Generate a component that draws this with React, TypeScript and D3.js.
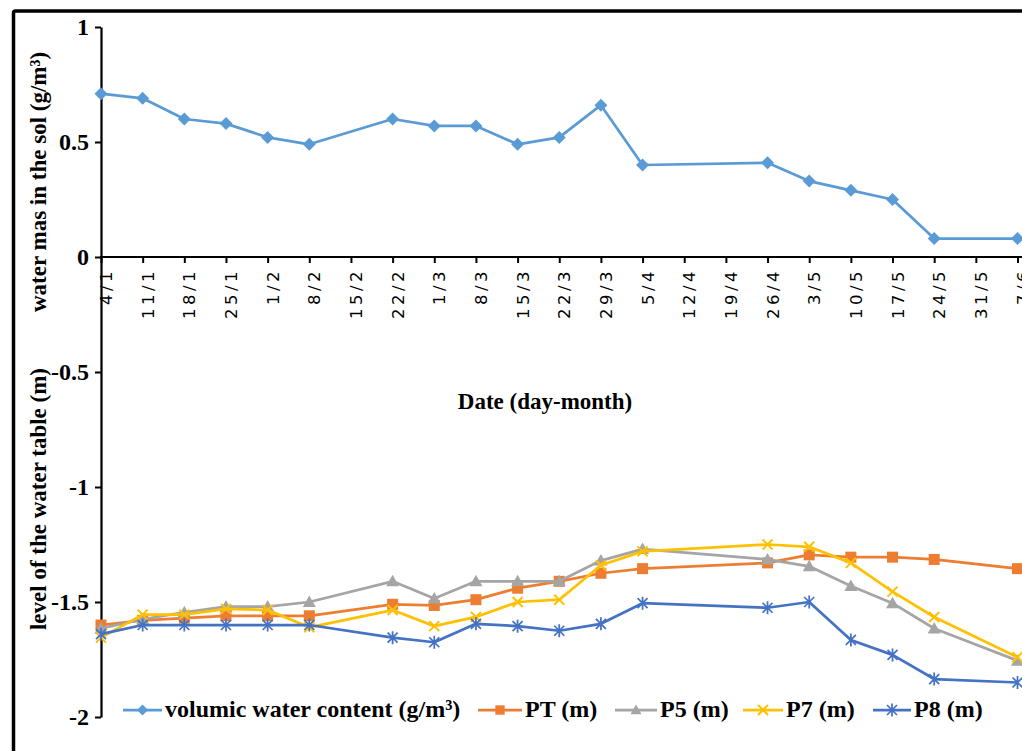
import * as d3 from "d3";
import { useEffect, useRef } from "react";

// sampling dates (day/month), same for every series
const dates = ["4/1", "11/1", "18/1", "25/1", "1/2", "8/2", "22/2", "1/3", "8/3", "15/3", "22/3", "29/3", "5/4", "26/4", "3/5", "10/5", "17/5", "24/5", "7/6"];
const tickLabels = ["4/1", "11/1", "18/1", "25/1", "1/2", "8/2", "15/2", "22/2", "1/3", "8/3", "15/3", "22/3", "29/3", "5/4", "12/4", "19/4", "26/4", "3/5", "10/5", "17/5", "24/5", "31/5", "7/6"];
const yTicks = [1, 0.5, 0, -0.5, -1, -1.5, -2];

const waterContent = [0.71, 0.69, 0.6, 0.58, 0.52, 0.49, 0.6, 0.57, 0.57, 0.49, 0.52, 0.66, 0.4, 0.41, 0.33, 0.29, 0.25, 0.08, 0.08];
const ptLevel = [-1.6, -1.58, -1.57, -1.56, -1.56, -1.56, -1.51, -1.515, -1.49, -1.44, -1.41, -1.375, -1.355, -1.33, -1.295, -1.305, -1.305, -1.315, -1.355];
const p5Level = [-1.615, -1.575, -1.545, -1.52, -1.52, -1.5, -1.41, -1.485, -1.41, -1.41, -1.41, -1.32, -1.27, -1.315, -1.345, -1.43, -1.505, -1.615, -1.755];
const p7Level = [-1.655, -1.555, -1.555, -1.53, -1.535, -1.61, -1.535, -1.605, -1.565, -1.5, -1.49, -1.34, -1.28, -1.25, -1.26, -1.33, -1.455, -1.565, -1.74];
const p8Level = [-1.64, -1.6, -1.6, -1.6, -1.6, -1.6, -1.655, -1.675, -1.595, -1.605, -1.625, -1.595, -1.505, -1.525, -1.5, -1.665, -1.73, -1.835, -1.85];

const seriesNames = ["volumic water content (g/m³)", "PT (m)", "P5 (m)", "P7 (m)", "P8 (m)"];

const parseDay = (s: string) => {
  const [d, m] = s.split("/").map(Number);
  return new Date(Date.UTC(2019, m - 1, d));
};

const serif = "'Liberation Serif', 'Times New Roman', serif";

function drawMarker(g: any, kind: string, color: string, s = 1) {
  if (kind === "diamond") {
    g.append("path").attr("d", `M0,${-6.5 * s}L${6.5 * s},0L0,${6.5 * s}L${-6.5 * s},0Z`).attr("fill", color);
  } else if (kind === "square") {
    g.append("rect").attr("x", -5.5 * s).attr("y", -5.5 * s).attr("width", 11 * s).attr("height", 11 * s).attr("fill", color);
  } else if (kind === "triangle") {
    g.append("path").attr("d", `M0,${-6.5 * s}L${6.5 * s},${5 * s}L${-6.5 * s},${5 * s}Z`).attr("fill", color);
  } else if (kind === "x") {
    g.append("path").attr("d", `M-5,-5L5,5M-5,5L5,-5`).attr("stroke", color).attr("stroke-width", 2).attr("fill", "none");
  } else {
    g.append("path").attr("d", `M-5,-5L5,5M-5,5L5,-5M0,-6.5L0,6.5`).attr("stroke", color).attr("stroke-width", 1.75).attr("fill", "none");
  }
}

function WaterChart(container: HTMLElement) {
  const width = 1022;
  const height = 751;
  const svg = d3.select(container)
    .append("svg")
    .attr("width", width)
    .attr("height", height)
    .style("display", "block")
    .style("background", "#fff");

  const x = d3.scaleUtc([parseDay("4/1"), parseDay("7/6")], [101, 1017.5]);
  const y = d3.scaleLinear([-2, 1], [717, 27]);

  // outer frame
  svg.append("rect")
    .attr("x", 13.5).attr("y", 11)
    .attr("width", 1200).attr("height", 900)
    .attr("rx", 2)
    .attr("fill", "none").attr("stroke", "#000").attr("stroke-width", 3.5);

  // x axis (at value 0)
  const xAxis = svg.append("g")
    .attr("transform", `translate(0, ${y(0)})`)
    .call(d3.axisBottom(x)
      .tickValues(tickLabels.map(parseDay))
      .tickFormat((_, i) => tickLabels[i])
      .tickSize(6)
      .tickSizeOuter(0));
  xAxis.attr("font-size", null).attr("font-family", null);
  xAxis.select(".domain").remove();
  xAxis.selectAll(".tick line").attr("stroke", "#000").attr("stroke-width", 2);
  xAxis.selectAll(".tick text")
    .attr("x", 0).attr("y", 0).attr("dy", null)
    .attr("text-anchor", "end")
    .attr("transform", "translate(10.5, 11) rotate(-90)")
    .attr("fill", "#000")
    .style("font-family", "'DejaVu Sans', sans-serif")
    .style("font-size", "16.5px")
    .style("letter-spacing", "3.5px");
  svg.append("line")
    .attr("x1", 100).attr("x2", width)
    .attr("y1", y(0)).attr("y2", y(0))
    .attr("stroke", "#000").attr("stroke-width", 2);

  // y axis
  const yAxis = svg.append("g")
    .attr("transform", `translate(101, 0)`)
    .call(d3.axisLeft(y).tickValues(yTicks).tickFormat(d => String(d)).tickSize(6).tickSizeOuter(0));
  yAxis.attr("font-size", null).attr("font-family", null);
  yAxis.select(".domain").attr("stroke", "#000").attr("stroke-width", 2.25);
  yAxis.selectAll(".tick line").attr("stroke", "#000").attr("stroke-width", 2);
  yAxis.selectAll(".tick text")
    .attr("x", -12)
    .attr("fill", "#000")
    .style("font-family", serif)
    .style("font-weight", "bold")
    .style("font-size", "24px");

  // axis titles
  svg.append("text")
    .attr("x", 545).attr("y", 409)
    .attr("text-anchor", "middle")
    .style("font-family", serif).style("font-weight", "bold").style("font-size", "23px")
    .text("Date (day-month)");
  svg.append("text")
    .attr("transform", "translate(46, 182) rotate(-90)")
    .attr("text-anchor", "middle")
    .style("font-family", serif).style("font-weight", "bold").style("font-size", "23px")
    .text("water mas in the sol (g/m³)");
  svg.append("text")
    .attr("transform", "translate(46, 499) rotate(-90)")
    .attr("text-anchor", "middle")
    .style("font-family", serif).style("font-weight", "bold").style("font-size", "23px")
    .text("level of the water table (m)");

  const series = [
    { name: seriesNames[0], values: waterContent, color: "#5B9BD5", marker: "diamond", lx: 123, lw: 39 },
    { name: seriesNames[1], values: ptLevel, color: "#ED7D31", marker: "square", lx: 478, lw: 44 },
    { name: seriesNames[2], values: p5Level, color: "#A5A5A5", marker: "triangle", lx: 615, lw: 42 },
    { name: seriesNames[3], values: p7Level, color: "#FFC000", marker: "x", lx: 743, lw: 40 },
    { name: seriesNames[4], values: p8Level, color: "#4472C4", marker: "star", lx: 873, lw: 38 },
  ];

  const line = d3.line<[string, number]>()
    .x(d => x(parseDay(d[0])))
    .y(d => y(d[1]));

  series.forEach(s => {
    const pts: [string, number][] = dates.map((d, i) => [d, s.values[i]]);
    const g = svg.append("g");
    g.append("path")
      .attr("d", line(pts))
      .attr("fill", "none")
      .attr("stroke", s.color)
      .attr("stroke-width", 2.75)
      .attr("stroke-linejoin", "round");
    pts.forEach(p => {
      const m = g.append("g").attr("transform", `translate(${x(parseDay(p[0]))}, ${y(p[1])})`);
      drawMarker(m, s.marker, s.color);
    });

    // legend entry
    const ly = 710;
    const lg = svg.append("g");
    lg.append("line")
      .attr("x1", s.lx).attr("x2", s.lx + s.lw)
      .attr("y1", ly).attr("y2", ly)
      .attr("stroke", s.color).attr("stroke-width", 2.75);
    drawMarker(lg.append("g").attr("transform", `translate(${s.lx + s.lw / 2}, ${ly})`), s.marker, s.color, 0.85);
    lg.append("text")
      .attr("x", s.lx + s.lw + 3).attr("y", ly + 7)
      .style("font-family", serif).style("font-weight", "bold").style("font-size", "24px")
      .text(s.name);
  });
}

export default function App() {
  const domRef = useRef<HTMLDivElement>(null);
  useEffect(() => {
    if (domRef.current) {
      WaterChart(domRef.current);
    }
    return () => {
      if (domRef.current) {
        d3.select(domRef.current).selectAll("svg").remove();
      }
    };
  }, [domRef]);
  return <div ref={domRef} style={{ position: "absolute", left: 0, top: 0, width: 1022, height: 751, overflow: "hidden" }}></div>;
}
